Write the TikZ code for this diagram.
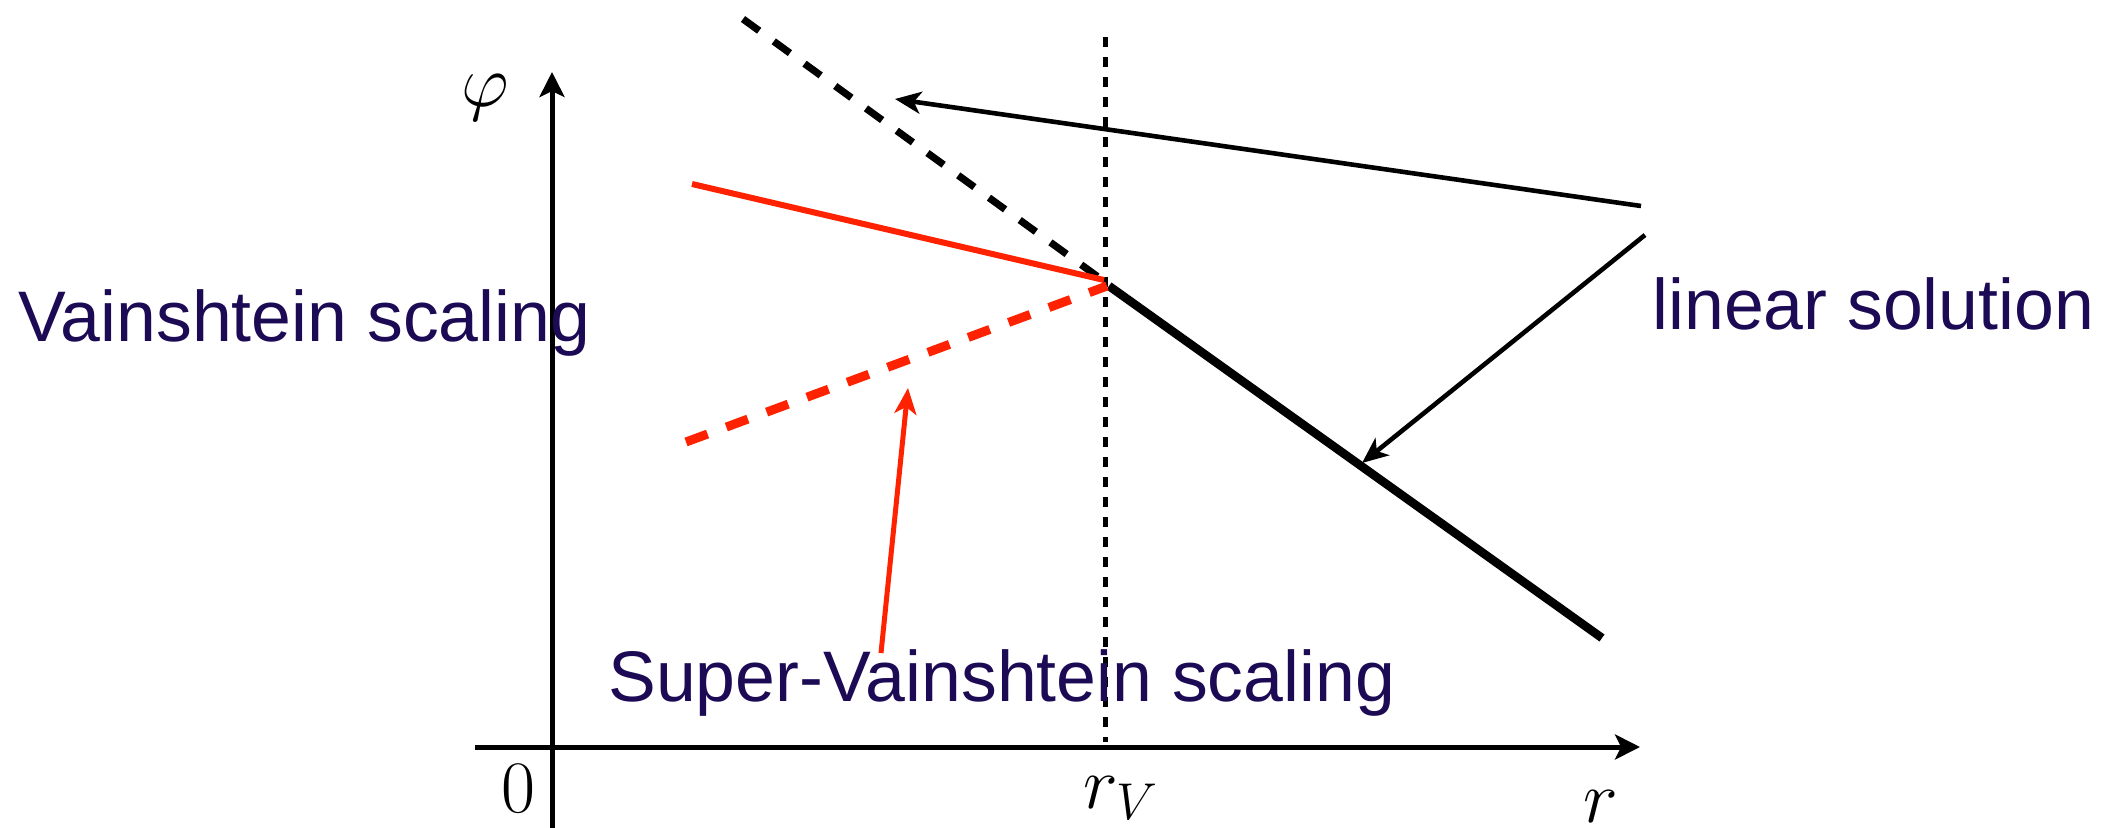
\RequirePackage{fix-cm}
\documentclass[tikz,border=0pt]{standalone}
\usepackage{fontspec}
\setmainfont{Liberation Sans}
\usetikzlibrary{arrows.meta}
\definecolor{txt}{RGB}{28,10,85}
\definecolor{myred}{RGB}{255,34,0}
\begin{document}
\begin{tikzpicture}[x=0.5pt,y=-0.5pt,
  axis/.style={line width=2.5pt,-{Stealth[length=12.5pt,width=12.5pt,inset=3pt]}},
  pointer/.style={line width=2.3pt,-{Stealth[length=13pt,width=11pt,inset=3.5pt]}},
  lbl/.style={text=txt,font=\fontsize{35.8}{42}\selectfont,inner sep=0pt,anchor=base west},
  mathlbl/.style={font=\fontsize{37}{44}\selectfont,inner sep=0pt}]
\useasboundingbox (0,0) rectangle (2102,828);
% coordinates
\coordinate (ybot) at (552,828);
\coordinate (ytop) at (552,72);
\coordinate (xleft) at (475,747);
\coordinate (xright) at (1640,747);
\coordinate (vtop) at (1105,37);
\coordinate (vbot) at (1105,742);
\coordinate (bdA) at (743,19);
\coordinate (bdB) at (1105,282);
\coordinate (bsA) at (1109,286);
\coordinate (bsB) at (1602,638);
\coordinate (rsA) at (692,184);
\coordinate (rsB) at (1104,280);
\coordinate (rdA) at (686,442);
\coordinate (rdB) at (1107,286);
\coordinate (a1s) at (1641,206);
\coordinate (a1e) at (895,99);
\coordinate (a2s) at (1645,235);
\coordinate (a2e) at (1362,463);
\coordinate (a3s) at (881,653);
\coordinate (a3e) at (908,388);
% axes
\draw[axis] (ybot) -- (ytop);
\draw[axis] (xleft) -- (xright);
\draw[line width=2.5pt,dash pattern=on 5pt off 5pt] (vtop) -- (vbot);
% curves
\draw[line width=3.6pt,dash pattern=on 10pt off 9pt] (bdA) -- (bdB);
\draw[line width=4.3pt] (bsA) -- (bsB);
\draw[line width=3pt,myred] (rsA) -- (rsB);
\draw[line width=4.5pt,myred,dash pattern=on 11.5pt off 10pt] (rdA) -- (rdB);
% pointers
\draw[pointer] (a1s) -- (a1e);
\draw[pointer] (a2s) -- (a2e);
\draw[pointer,myred,line width=2.5pt] (a3s) -- (a3e);
% labels
\node[lbl] (vs) at (18,342) {Vainshtein scaling};
\node[lbl] (ls) at (1652,330) {linear solution};
\node[lbl] (svs) at (608,701) {Super-Vainshtein scaling};
\node[mathlbl] (phi) at (485,98) {$\varphi$};
\node[mathlbl,anchor=base] (zero) at (518,812) {$0$};
\node[mathlbl,anchor=base west] (rv) at (1083,808) {$r_V$};
\node[mathlbl,anchor=base] (rr) at (1601,822) {$r$};
\end{tikzpicture}
\end{document}
